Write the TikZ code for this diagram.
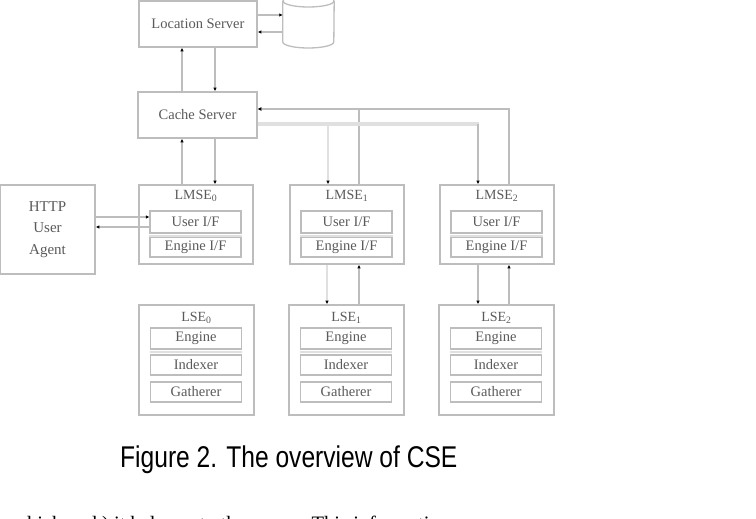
\documentclass[tikz,border=0pt]{standalone}
\usepackage{fontspec}
\setmainfont{Liberation Serif}
\newfontfamily\capfont{Liberation Sans}
\usetikzlibrary{positioning, arrows.meta, shapes.geometric}
\definecolor{boxgray}{HTML}{BDBDBD}
\definecolor{txtgray}{HTML}{5A5A5A}
\definecolor{bandgray}{HTML}{E0E0E0}

\begin{document}
\begin{tikzpicture}[x=1pt, y=1pt,
    box/.style={draw=boxgray, line width=1.6pt, inner sep=0pt, text=txtgray, font=\fontsize{14.5}{14.5}\selectfont},
    subbox/.style={draw=boxgray, line width=1.3pt, minimum width=91pt, inner sep=0pt, text=txtgray, font=\fontsize{14.5}{14.5}\selectfont},
    boxtitle/.style={inner sep=0pt, text=txtgray, font=\fontsize{14}{14}\selectfont},
    sep/.style={draw=bandgray, line width=2.5pt},
    conn/.style={draw=boxgray, line width=1.3pt},
    arr/.style={conn, -{Latex[length=3.5pt, width=3.5pt, color=black]}},
    band/.style={draw=bandgray, line width=4.5pt}
]
\useasboundingbox (0,0) rectangle (756,-519);

\node[box, minimum width=118pt, minimum height=46pt](loc) at (198,-24) {Location Server};
% data store
\node[minimum width=51pt, minimum height=54pt, inner sep=0pt](db) at (308.5,-21) {};
\draw[conn] (db.west |- 0,-1) -- (db.west |- 0,-42)
    arc[start angle=180, end angle=360, x radius=25.5, y radius=6] -- (db.east |- 0,-1);
\draw[conn] (308.5,-1) ellipse[x radius=25.5, y radius=6];
\node[box, minimum width=119pt, minimum height=46pt](cache) at (197.5,-115) {Cache Server};

\node[box, minimum width=95pt, minimum height=89pt, align=center,
      font=\fontsize{15}{21.5}\selectfont](agent) at (47.5,-229.5) {HTTP\\User\\Agent};

% LMSE
\node[box, minimum width=114pt, minimum height=79pt](lmse_0) at (196,-224.5) {};
\node[box, minimum width=114pt, minimum height=79pt](lmse_1) at (347,-224.5) {};
\node[box, minimum width=114pt, minimum height=79pt](lmse_2) at (497,-224.5) {};

\node[boxtitle] at (196,-196) {LMSE\textsubscript{0}};
\node[boxtitle] at (347,-196) {LMSE\textsubscript{1}};
\node[boxtitle] at (497,-196) {LMSE\textsubscript{2}};

\node[subbox, minimum height=22pt](uif_0) at (195.5,-222) {User I/F};
\node[subbox, minimum height=22pt](uif_1) at (346.5,-222) {User I/F};
\node[subbox, minimum height=22pt](uif_2) at (496.5,-222) {User I/F};

\node[subbox, minimum height=20pt](eif_0) at (195.5,-247) {Engine I/F};
\node[subbox, minimum height=20pt](eif_1) at (346.5,-247) {Engine I/F};
\node[subbox, minimum height=20pt](eif_2) at (496.5,-247) {Engine I/F};

\draw[sep] ([yshift=-2.5pt]uif_0.south west) -- ([yshift=-2.5pt]uif_0.south east);
\draw[sep] ([yshift=-2.5pt]uif_1.south west) -- ([yshift=-2.5pt]uif_1.south east);
\draw[sep] ([yshift=-2.5pt]uif_2.south west) -- ([yshift=-2.5pt]uif_2.south east);

% LSE
\node[box, minimum width=115pt, minimum height=110pt](lse_0) at (196.5,-360) {};
\node[box, minimum width=115pt, minimum height=110pt](lse_1) at (346.5,-360) {};
\node[box, minimum width=115pt, minimum height=110pt](lse_2) at (496.5,-360) {};

\node[boxtitle] at (196.5,-318) {LSE\textsubscript{0}};
\node[boxtitle] at (346.5,-318) {LSE\textsubscript{1}};
\node[boxtitle] at (496.5,-318) {LSE\textsubscript{2}};

\node[subbox, minimum height=21pt](eng_0) at (196,-338.5) {Engine};
\node[subbox, minimum height=21pt](eng_1) at (346,-338.5) {Engine};
\node[subbox, minimum height=21pt](eng_2) at (496,-338.5) {Engine};

\node[subbox, minimum height=20pt](idx_0) at (196,-365) {Indexer};
\node[subbox, minimum height=20pt](idx_1) at (346,-365) {Indexer};
\node[subbox, minimum height=20pt](idx_2) at (496,-365) {Indexer};

\node[subbox, minimum height=20pt](gat_0) at (196,-392) {Gatherer};
\node[subbox, minimum height=20pt](gat_1) at (346,-392) {Gatherer};
\node[subbox, minimum height=20pt](gat_2) at (496,-392) {Gatherer};

\draw[sep] ([yshift=-2.5pt]eng_0.south west) -- ([yshift=-2.5pt]eng_0.south east);
\draw[sep] ([yshift=-2.5pt]eng_1.south west) -- ([yshift=-2.5pt]eng_1.south east);
\draw[sep] ([yshift=-2.5pt]eng_2.south west) -- ([yshift=-2.5pt]eng_2.south east);

% connectors
\draw[arr] (loc.east |- 0,-15) -- (db.west |- 0,-15);
\draw[arr] (db.west |- 0,-32) -- (loc.east |- 0,-32);

\draw[arr] (cache.north -| 182,0) -- (loc.south -| 182,0);
\draw[arr] (loc.south -| 215,0) -- (cache.north -| 215,0);

\draw[arr] (lmse_0.north -| 182,0) -- (cache.south -| 182,0);
\draw[arr] (cache.south -| 215,0) -- (lmse_0.north -| 215,0);

\draw[arr] (agent.east |- 0,-217) -- (uif_0.west |- 0,-217);
\draw[arr] (uif_0.west |- 0,-227) -- (agent.east |- 0,-227);

\draw[arr] (lmse_2.north -| 509,0) |- (cache.east |- 0,-109);
\draw[arr] (lmse_1.north -| 359,0) |- (cache.east |- 0,-109);

\coordinate (j_1) at (328,-124);
\coordinate (j_2) at (478,-124);
\draw[band] (cache.east |- j_2) -- ([xshift=0.6pt]j_2);
\draw[arr, draw=bandgray, line width=2.5pt] (j_1) -- (lmse_1.north -| j_1);
\draw[arr] (j_2) -- (lmse_2.north -| j_2);

\draw[arr, draw=bandgray, line width=2.5pt] (lmse_1.south -| 327,0) -- (lse_1.north -| 327,0);
\draw[arr] (lse_1.north -| 359,0) -- (lmse_1.south -| 359,0);
\draw[arr] (lmse_2.south -| 478,0) -- (lse_2.north -| 478,0);
\draw[arr] (lse_2.north -| 509,0) -- (lmse_2.south -| 509,0);

\node[anchor=base west, xscale=0.82, inner sep=0pt, font=\capfont\fontsize{30}{30}\selectfont](caption) at (120,-467) {Figure 2. The overview of CSE};
\node[anchor=base west, inner sep=0pt, font=\fontsize{20.5}{20.5}\selectfont](body) at (12,-530) {which and ) it belongs to the server. This information};
\end{tikzpicture}
\end{document}
